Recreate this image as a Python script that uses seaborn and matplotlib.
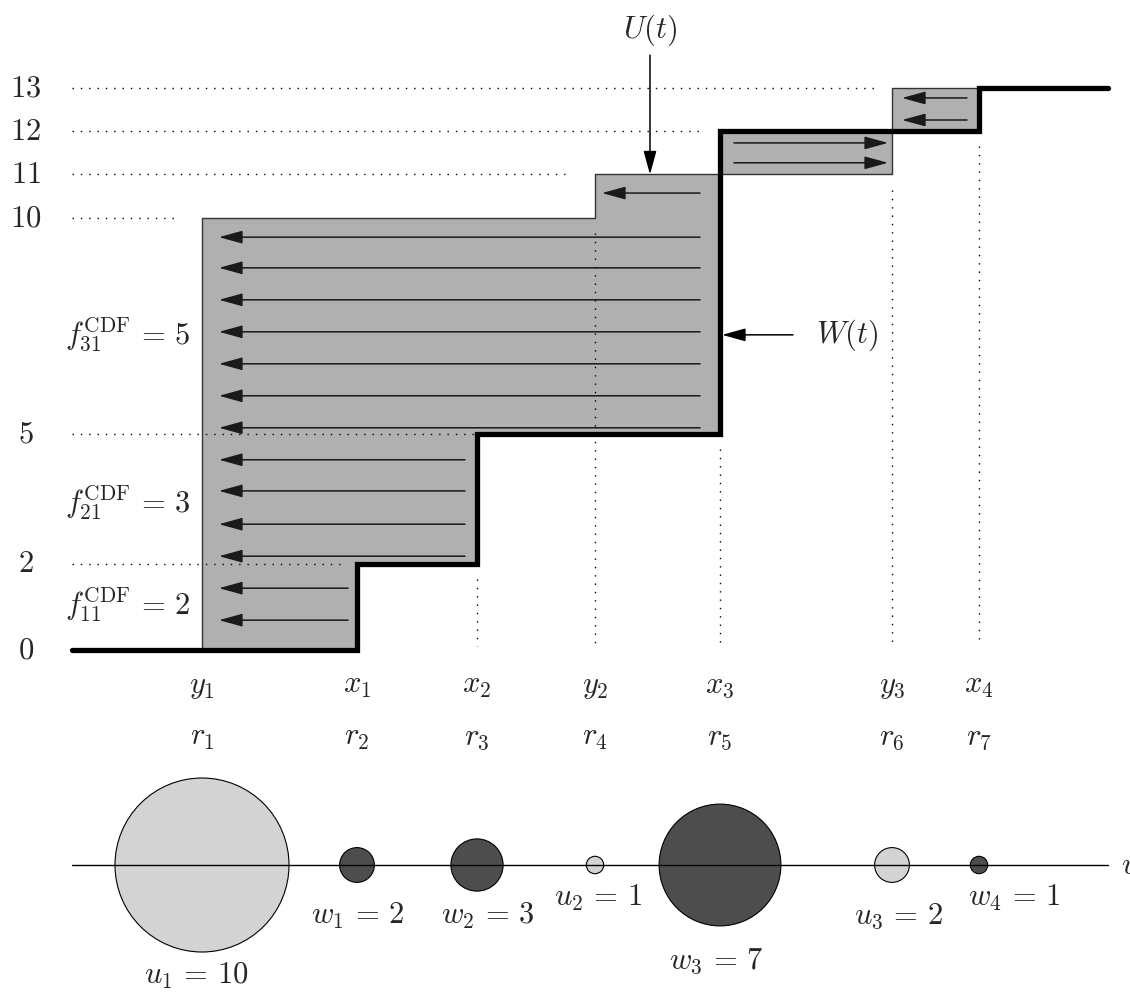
import numpy as np
import matplotlib
matplotlib.use("Agg")
import matplotlib.pyplot as plt
from matplotlib.patches import Circle
import seaborn as sns

sns.set_theme(style="white")
plt.rcParams["mathtext.fontset"] = "cm"
plt.rcParams["font.family"] = ["DejaVu Serif"]

# event times on the horizontal axis
event_names = ["y_1", "x_1", "x_2", "y_2", "x_3", "y_3", "x_4"]
event_ranks = ["r_1", "r_2", "r_3", "r_4", "r_5", "r_6", "r_7"]
event_t = [202, 357, 477, 595, 720, 892, 979]

# W(t) step curve (thick)
w_t = [72, 357, 477, 720, 979, 1108]
w_level = [0, 2, 5, 12, 13, 13]

# U(t) step curve (thin outline of the shaded area)
u_t = [72, 202, 595, 892, 979]
u_level = [0, 10, 11, 13, 13]

level_ticks = [0, 2, 5, 10, 11, 12, 13]
guide_levels = [2, 5, 10, 11, 12, 13]
guide_end = [340, 475, 180, 565, 704, 878]

drop_t = [477, 595, 720, 892, 979]
drop_top = [2, 10, 5, 11, 12]

# flow arrows inside the shaded area
flow_y = [0.69, 1.43, 2.17, 2.91, 3.68, 4.40, 5.14, 5.88, 6.62, 7.36, 8.10,
          8.84, 9.55, 10.57, 11.27, 11.73, 12.26, 12.77]
flow_from = [348, 348, 465, 465, 465, 465, 700, 700, 700, 700, 700,
             700, 700, 700, 734, 734, 967, 967]
flow_to = [219, 219, 219, 219, 219, 219, 219, 219, 219, 219, 219,
           219, 219, 602, 888, 888, 902, 902]

cdf_labels = [r"$f_{11}^{\mathrm{CDF}} \,=\, 2$", r"$f_{21}^{\mathrm{CDF}} \,=\, 3$",
              r"$f_{31}^{\mathrm{CDF}} \,=\, 5$"]
cdf_level = [1.04, 3.40, 7.29]

# bottom: node sizes
node_names = ["u_1", "w_1", "w_2", "u_2", "w_3", "u_3", "w_4"]
node_values = [10, 2, 3, 1, 7, 2, 1]

FS = 22
fig = plt.figure(figsize=(11.3, 9.96), dpi=100)
ax = fig.add_axes([0, 236 / 996, 1, 760 / 996])
ax.set_xlim(0, 1130)
ax.set_ylim(-2.545, 15.036)
ax.axis("off")

# shaded region between U and W
grid = np.array(event_t)
def step_at(ts, lv, t):
    idx = np.searchsorted(ts, t, side="right") - 1
    return np.array(lv)[idx]
ax.fill_between(grid, step_at(w_t, w_level, grid), step_at(u_t, u_level, grid),
                step="post", color="#b0b0b0", lw=0, zorder=1)

sns.lineplot(x=u_t, y=u_level, ax=ax, drawstyle="steps-post", color="#333333",
             lw=1.0, zorder=2, estimator=None, sort=False)
sns.lineplot(x=w_t, y=w_level, ax=ax, drawstyle="steps-post", color="black",
             lw=3.8, zorder=5, estimator=None, sort=False,
             solid_joinstyle="miter")

dot = (0, (1, 5))
for lv, end in zip(guide_levels, guide_end):
    ax.plot([72, end], [lv, lv], color="black", lw=1.0, ls=dot, zorder=3)
for t, top in zip(drop_t, drop_top):
    ax.plot([t, t], [top - 0.35, 0.1], color="black", lw=1.0, ls=dot, zorder=3)

head = "-|>,head_length=0.8,head_width=0.22"
for y, a, b in zip(flow_y, flow_from, flow_to):
    ax.annotate("", xy=(b, y), xytext=(a, y),
                arrowprops=dict(arrowstyle=head, mutation_scale=18,
                                color="#1a1a1a", lw=1.1, shrinkA=0, shrinkB=0),
                zorder=4)

for lv in level_ticks:
    ax.text(26, lv, f"${lv}$", ha="center", va="center", fontsize=FS)
for lab, lv in zip(cdf_labels, cdf_level):
    ax.text(128, lv, lab, ha="center", va="center", fontsize=FS)
for t, nm, rk in zip(event_t, event_names, event_ranks):
    ax.text(t, -1.0, f"${nm}$", ha="center", va="baseline", fontsize=FS)
    ax.text(t, -2.2, f"${rk}$", ha="center", va="baseline", fontsize=FS)

# U(t) and W(t) pointers
ax.text(650, 14.34, r"$U(t)$", ha="center", va="center", fontsize=FS)
ax.annotate("", xy=(650, 11.0), xytext=(650, 13.76),
            arrowprops=dict(arrowstyle=head, mutation_scale=18, color="black",
                            lw=1.1, shrinkA=0, shrinkB=0))
ax.text(847, 7.29, r"$W(t)$", ha="center", va="center", fontsize=FS)
ax.annotate("", xy=(722, 7.29), xytext=(793, 7.29),
            arrowprops=dict(arrowstyle=head, mutation_scale=18, color="black",
                            lw=1.1, shrinkA=0, shrinkB=0))

# bottom panel with circles
bx = fig.add_axes([0, 0, 1, 236 / 996])
bx.set_xlim(0, 1130)
bx.set_ylim(-131, 105)
bx.axis("off")
sns.lineplot(x=[72, 1108], y=[0, 0], ax=bx, color="black", lw=1.0, zorder=1)
bx.text(1121, 0, r"$v$", ha="left", va="center", fontsize=FS, clip_on=False)

label_dx = [-6, 1, 11, 3, -4, 7, 35]
label_dy = [-110, -50, -50, -32, -95, -50, -32]
for t, nm, v, dx, dy in zip(event_t, node_names, node_values, label_dx, label_dy):
    fc = "#d3d3d3" if nm.startswith("u") else "#4d4d4d"
    bx.add_patch(Circle((t, 0), 8.7 * v, facecolor=fc, edgecolor="black",
                        lw=0.8, zorder=0))
    bx.text(t + dx, dy, rf"${nm} \,=\, {v}$", ha="center", va="center",
            fontsize=FS)

fig.savefig("out.png", dpi=100)
